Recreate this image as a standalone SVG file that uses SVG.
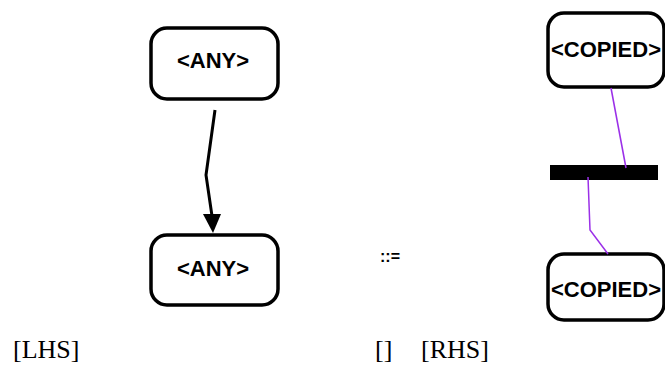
<svg xmlns="http://www.w3.org/2000/svg" width="665" height="370" viewBox="0 0 665 370">
  <defs>
    <style>
      .box { fill: #ffffff; stroke: #000000; stroke-width: 3.5; }
      .lbl { font-family: "Liberation Sans", Arial, sans-serif; font-weight: bold; font-size: 22px; fill: #000000; text-anchor: middle; }
      .tex { font-family: "Liberation Serif", "Times New Roman", serif; font-size: 26px; fill: #000000; }
      .edge { fill: none; stroke: #000000; stroke-width: 3; }
      .head { fill: #000000; stroke: none; }
      .link { fill: none; stroke: #9b30e8; stroke-width: 1.5; }
    </style>
  </defs>

  <!-- left-hand side nodes -->
  <g id="lhs-any-top">
    <rect class="box" x="151" y="28" width="127" height="71" rx="16" ry="16"/>
    <text class="lbl" x="213" y="68">&lt;ANY&gt;</text>
  </g>
  <g id="lhs-any-bottom">
    <rect class="box" x="151" y="235" width="127" height="70" rx="16" ry="16"/>
    <text class="lbl" x="213" y="276">&lt;ANY&gt;</text>
  </g>

  <!-- right-hand side nodes -->
  <g id="rhs-copied-top">
    <rect class="box" x="548" y="13" width="116" height="74" rx="16" ry="16"/>
    <text class="lbl" x="606" y="57">&lt;COPIED&gt;</text>
  </g>
  <g id="rhs-bar">
    <rect x="550" y="165" width="108" height="15" fill="#000000"/>
  </g>
  <g id="rhs-copied-bottom">
    <rect class="box" x="548" y="254" width="116" height="66" rx="16" ry="16"/>
    <text class="lbl" x="606" y="297">&lt;COPIED&gt;</text>
  </g>

  <!-- connectors -->
  <g id="connectors">
    <polyline class="edge" points="215,110 206,175 212,216"/>
    <polygon class="head" points="203,214 221,214 213,233"/>
    <polyline class="link" points="611,88 626,168"/>
    <polyline class="link" points="588,177 590,230 608,254"/>
  </g>

  <!-- labels -->
  <g id="labels">
    <text class="lbl" x="390" y="262" style="font-size:16px">::=</text>
    <text class="tex" x="13" y="358">[LHS]</text>
    <text class="tex" x="375" y="358">[]</text>
    <text class="tex" x="421" y="358">[RHS]</text>
  </g>
</svg>
